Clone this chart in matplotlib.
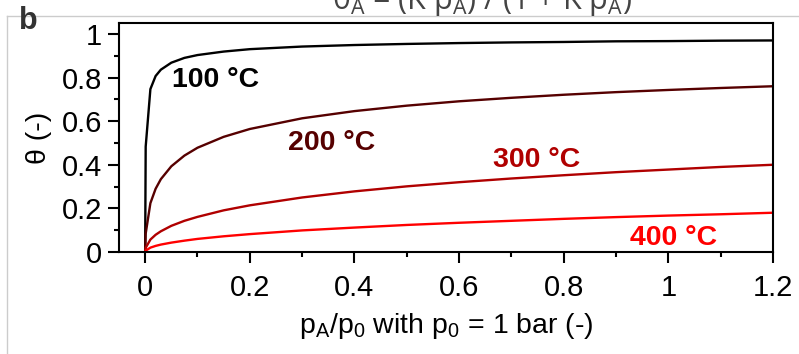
import matplotlib
matplotlib.use("Agg")
import matplotlib.pyplot as plt
from matplotlib.lines import Line2D
from matplotlib.ticker import MultipleLocator

plt.rcParams['font.family'] = ['Liberation Sans', 'DejaVu Sans']
plt.rcParams['mathtext.fontset'] = 'custom'
plt.rcParams['mathtext.rm'] = 'Open Sans'
plt.rcParams['mathtext.it'] = 'Open Sans'

# pressure ratio p_A/p_0
p = [0, 0.001, 0.01, 0.02, 0.03, 0.05, 0.075, 0.1, 0.15, 0.2, 0.3, 0.4,
     0.5, 0.6, 0.7, 0.8, 0.9, 1.0, 1.1, 1.2]
theta_100 = [0, 0.483, 0.747, 0.807, 0.836, 0.868, 0.890, 0.903, 0.919, 0.930,
             0.942, 0.949, 0.954, 0.958, 0.961, 0.963, 0.966, 0.967, 0.969, 0.970]
theta_200 = [0, 0.084, 0.224, 0.290, 0.334, 0.393, 0.442, 0.478, 0.528, 0.564,
             0.613, 0.646, 0.671, 0.691, 0.707, 0.721, 0.733, 0.743, 0.752, 0.760]
theta_300 = [0, 0.019, 0.057, 0.079, 0.095, 0.120, 0.143, 0.161, 0.191, 0.214,
             0.250, 0.278, 0.301, 0.320, 0.337, 0.352, 0.366, 0.378, 0.390, 0.400]
theta_400 = [0, 0.006, 0.020, 0.028, 0.034, 0.043, 0.052, 0.060, 0.072, 0.082,
             0.099, 0.112, 0.124, 0.134, 0.143, 0.152, 0.160, 0.167, 0.173, 0.180]

series = [
    ("100 °C", theta_100, "#000000", (0.134, 0.79)),
    ("200 °C", theta_200, "#560000", (0.356, 0.50)),
    ("300 °C", theta_300, "#b00000", (0.748, 0.423)),
    ("400 °C", theta_400, "#ff0000", (1.01, 0.064)),
]

W, H = 799, 354
fig = plt.figure(figsize=(W / 100, H / 100), dpi=100)
ax = fig.add_axes([119 / W, 1 - 252 / H, (773 - 119) / W, (252 - 23) / H])

for label, vals, col, pos in series:
    ax.plot(p, vals, color=col, lw=1.7, solid_joinstyle='round')
    ax.text(pos[0], pos[1], label, color=col, fontsize=20.5, fontweight='bold',
            ha='center', va='center')

ax.set_xlim(-0.05, 1.2)
ax.set_ylim(0, 1.05)
ax.xaxis.set_minor_locator(MultipleLocator(0.1))
ax.yaxis.set_minor_locator(MultipleLocator(0.1))
ax.set_xticks([0, 0.2, 0.4, 0.6, 0.8, 1.0, 1.2])
ax.set_xticklabels(["0", "0.2", "0.4", "0.6", "0.8", "1", "1.2"])
ax.set_yticks([0, 0.2, 0.4, 0.6, 0.8, 1.0])
ax.set_yticklabels(["0", "0.2", "0.4", "0.6", "0.8", "1"])
ax.tick_params(which='major', direction='out', length=8, width=1.5,
               labelsize=21)
ax.tick_params(axis='x', which='major', pad=8)
ax.tick_params(axis='y', which='major', pad=4)
ax.tick_params(which='minor', direction='out', length=3.5, width=1.5)
for s in ax.spines.values():
    s.set_linewidth(1.5)

ax.set_xlabel("p$_\\mathregular{A}$/p$_\\mathregular{0}$ with p$_\\mathregular{0}$ = 1 bar (-)",
              fontsize=20.5, labelpad=6)
ax.set_ylabel("θ (-)", fontsize=20.5, labelpad=7)

# figure frame lines
fig.add_artist(Line2D([7 / W, 1], [1 - 16 / H, 1 - 16 / H], color="#cccccc", lw=1))
fig.add_artist(Line2D([7 / W, 7 / W], [0, 1 - 16 / H], color="#cccccc", lw=1))

fig.text(19 / W, 1 - 29 / H, "b", fontsize=22, fontweight='bold', color="#333333",
         ha='left', va='baseline')
fig.text(332 / W, 1 - 9 / H, r"$\theta_A$ = (K p$_A$) / (1 + K p$_A$)",
         fontsize=22, color="#444444", family='Open Sans', ha='left', va='baseline')

fig.savefig("out.png", dpi=100)
